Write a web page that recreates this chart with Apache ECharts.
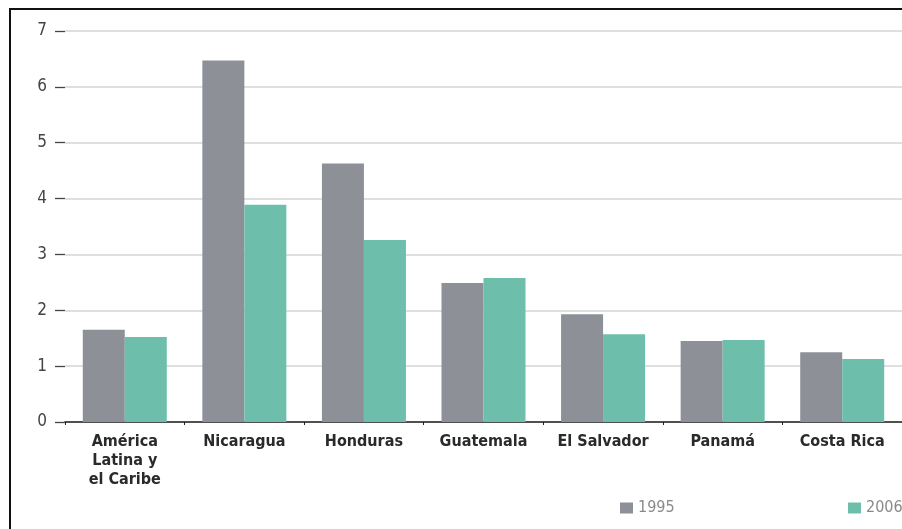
<!DOCTYPE html>
<html>
<head>
<meta charset="utf-8">
<script src="https://cdn.jsdelivr.net/npm/echarts@6/dist/echarts.min.js"></script>
<style>html,body{margin:0;padding:0;background:#fff;}#c{width:902px;height:529px;}</style>
</head>
<body>
<div id="c"></div>
<script>
const categories = ['América\nLatina y\nel Caribe', 'Nicaragua', 'Honduras', 'Guatemala', 'El Salvador', 'Panamá', 'Costa Rica'];
const values1995 = [1.65, 6.47, 4.63, 2.49, 1.93, 1.45, 1.25];
const values2006 = [1.52, 3.89, 3.26, 2.58, 1.57, 1.47, 1.13];
const yTicks = [0, 1, 2, 3, 4, 5, 6, 7];

const FONT = '"DejaVu Sans Condensed", "Liberation Sans Narrow", sans-serif';
const chart = echarts.init(document.getElementById('c'));
chart.setOption({
  animation: false,
  graphic: [{
    type: 'polyline',
    shape: { points: [[10, 540], [10, 9], [910, 9]] },
    style: { stroke: '#111', lineWidth: 2, fill: null },
    silent: true
  }],
  grid: { left: 65, right: -1, top: 31, bottom: 107, containLabel: false },
  legend: [
    { data: ['1995'], left: 615, top: 495, itemWidth: 13, itemHeight: 11, itemGap: 4, icon: 'rect',
      textStyle: { color: '#8a8a8a', fontSize: 16, fontFamily: FONT } },
    { data: ['2006'], left: 843, top: 495, itemWidth: 13, itemHeight: 11, icon: 'rect',
      textStyle: { color: '#8a8a8a', fontSize: 16, fontFamily: FONT } }
  ],
  xAxis: {
    type: 'category',
    data: categories,
    axisLine: { show: true, lineStyle: { color: '#222', width: 1.5 } },
    axisTick: { show: true, length: 3, lineStyle: { color: '#222' } },
    axisLabel: { color: '#2a2a2a', fontSize: 16, fontWeight: 'bold', fontFamily: FONT, lineHeight: 19, margin: 10 }
  },
  yAxis: {
    type: 'value',
    min: 0, max: 7, interval: 1,
    axisLine: { show: false },
    axisTick: { show: true, inside: false, length: 10, lineStyle: { color: '#444', width: 1.3 } },
    axisLabel: { color: '#444', fontSize: 17, fontFamily: FONT, margin: 18,
      formatter: v => yTicks.includes(v) ? String(v) : '' },
    splitLine: { lineStyle: { color: '#d4d4d4', width: 1.5 } }
  },
  series: [
    { name: '1995', type: 'bar', data: values1995, barWidth: 42, barGap: '0%',
      itemStyle: { color: '#8e9097' } },
    { name: '2006', type: 'bar', data: values2006, barWidth: 42, barGap: '0%',
      itemStyle: { color: '#6dbfab' } }
  ]
});
</script>
</body>
</html>
